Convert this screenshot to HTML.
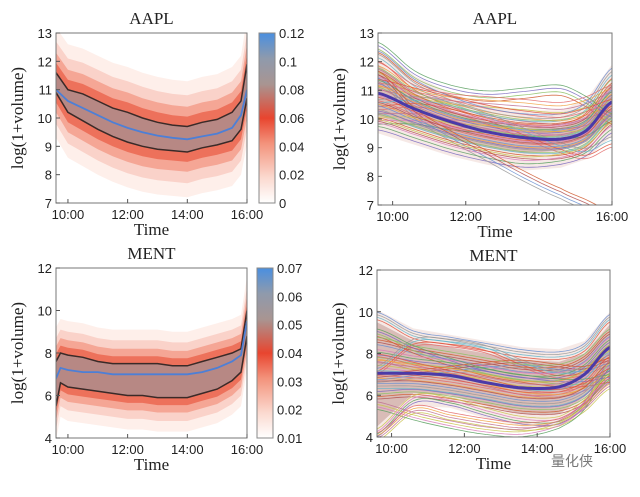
<!DOCTYPE html>
<html><head><meta charset="utf-8">
<style>
body{margin:0;background:#fff;width:640px;height:492px;overflow:hidden}
svg text{font-family:"Liberation Sans",sans-serif;fill:#222}
.serif{font-family:"Liberation Serif",serif !important}
</style></head>
<body>
<svg id="fig" width="640" height="492" xmlns="http://www.w3.org/2000/svg">
<defs>
<linearGradient id="cb" x1="0" y1="1" x2="0" y2="0">
<stop offset="0" stop-color="#ffffff"/><stop offset="0.15" stop-color="#fbd9cf"/>
<stop offset="0.35" stop-color="#f3937c"/><stop offset="0.5" stop-color="#e8452f"/>
<stop offset="0.7" stop-color="#a89592"/><stop offset="0.85" stop-color="#8f9aac"/>
<stop offset="1" stop-color="#4a8fe0"/></linearGradient>
</defs>
</svg>
<script>
// ---------- data ----------
const aaplTimes=[9.6,10,10.5,11,11.5,12,12.5,13,13.5,14,14.5,15,15.5,15.8,16];
const aaplMean=[11.0,10.6,10.35,10.1,9.85,9.65,9.5,9.38,9.3,9.25,9.35,9.45,9.65,10.1,11.0];
const aaplUpper=[11.6,11.0,10.85,10.6,10.35,10.2,10.0,9.85,9.75,9.7,9.85,9.95,10.2,10.6,11.9];
const aaplLower=[10.9,10.2,9.9,9.6,9.35,9.15,9.0,8.9,8.85,8.8,8.95,9.05,9.2,9.6,10.7];
const mentTimes=[9.6,9.75,10,10.5,11,11.5,12,12.5,13,13.5,14,14.5,15,15.5,15.8,16];
const mentMean=[6.8,7.3,7.2,7.1,7.1,7.0,7.0,7.0,7.0,7.0,7.0,7.1,7.3,7.6,7.9,9.5];
const mentUpper=[7.6,8.0,7.9,7.8,7.6,7.5,7.5,7.5,7.5,7.4,7.4,7.6,7.8,8.0,8.2,10.0];
const mentLower=[5.5,6.6,6.4,6.3,6.2,6.1,6.0,6.0,5.9,5.9,5.9,6.1,6.3,6.7,7.1,8.8];
const fitTimes=[9.6,10.6,11.6,12.6,13.6,14.6,15.3,16];
const aaplFitMean=[10.9,10.35,9.9,9.55,9.35,9.3,9.6,10.6];
const aaplCurves=[
[12.2,11.2,10.6,10.2,10.0,10.0,10.4,11.6],[11.6,10.8,10.3,10.0,9.8,9.8,10.1,11.2],
[11.3,10.6,10.1,9.8,9.6,9.6,9.9,10.9],[11.0,10.4,9.9,9.6,9.4,9.4,9.7,10.7],
[10.7,10.2,9.7,9.4,9.2,9.2,9.5,10.4],[10.4,9.9,9.5,9.2,9.0,9.0,9.3,10.2],
[10.1,9.7,9.3,9.0,8.8,8.8,9.1,10.0],[9.8,9.4,9.0,8.7,8.5,8.6,8.9,9.7],
[11.8,11.0,10.7,10.6,10.5,10.4,10.6,11.0],[10.5,10.6,10.4,10.0,9.5,9.0,8.8,9.2],
[11.5,10.2,9.4,8.7,8.0,7.4,7.0,6.6],[12.5,11.5,11.0,10.8,10.9,11.0,10.6,10.0],
[10.0,10.0,9.8,9.7,9.6,9.5,9.6,10.1],[11.2,10.9,10.6,10.3,10.1,10.0,10.2,10.5]];
const mentFitMean=[7.05,7.05,6.95,6.6,6.35,6.4,7.0,8.3];
const mentCurves=[
[9.8,8.9,8.6,8.3,8.0,7.9,8.3,9.7],[8.6,8.2,7.9,7.6,7.3,7.3,7.8,9.0],
[8.0,7.7,7.5,7.2,6.9,6.9,7.4,8.6],[7.5,7.3,7.1,6.8,6.5,6.5,7.0,8.2],
[7.0,6.9,6.7,6.4,6.1,6.1,6.6,7.8],[6.5,6.5,6.3,6.0,5.7,5.7,6.2,7.4],
[6.0,6.1,5.9,5.6,5.3,5.3,5.8,7.0],[4.2,5.8,5.7,5.2,4.8,4.8,5.6,6.8],
[4.0,5.3,5.0,4.7,4.5,4.7,5.4,6.5],[7.2,8.5,8.5,8.2,7.5,7.0,7.2,8.0],
[6.8,7.0,7.2,7.4,7.5,7.3,7.2,7.6],[9.0,8.2,7.6,7.1,6.8,6.6,6.6,6.8],
[5.5,5.0,4.6,4.3,4.2,4.6,5.5,7.5],[7.8,7.4,7.0,6.6,6.2,6.1,6.4,7.1]];
const xTickLabels=["10:00","12:00","14:00","16:00"];
const xTickValues=[10,12,14,16];
const aaplYTicks=[7,8,9,10,11,12,13];
const mentYTicks=[4,6,8,10,12];
const aaplCbTicks=["0","0.02","0.04","0.06","0.08","0.1","0.12"];
const mentCbTicks=["0.01","0.02","0.03","0.04","0.05","0.06","0.07"];
const lineColors=["#e0553f","#6a8fd0","#8bc063","#d77bb8","#f0a040","#66b6c9","#b05050","#7a6ac0","#c9c24c","#e36a6a","#999999","#d05a30","#5aa060","#c07090"];

// ---------- helpers ----------
const svg=document.getElementById('fig');const NS="http://www.w3.org/2000/svg";
function el(t,a,p){const e=document.createElementNS(NS,t);for(const k in a)e.setAttribute(k,a[k]);(p||svg).appendChild(e);return e;}
function mkAxes(x0,x1,y0,y1,ymin,ymax){return {x:t=>x0+(t-9.6)/(16-9.6)*(x1-x0),y:v=>y1-(v-ymin)/(ymax-ymin)*(y1-y0),x0,x1,y0,y1,ymin,ymax};}
function pathOf(ax,ts,vs){return ts.map((t,i)=>(i?'L':'M')+ax.x(t).toFixed(1)+','+ax.y(vs[i]).toFixed(1)).join('');}
function smoothPath(ax,ts,vs){let d='';for(let i=0;i<ts.length-1;i++){const n=8;for(let k=0;k<=n;k++){const s=k/n;
const p0=vs[Math.max(i-1,0)],p1=vs[i],p2=vs[i+1],p3=vs[Math.min(i+2,vs.length-1)];
const v=0.5*((2*p1)+(-p0+p2)*s+(2*p0-5*p1+4*p2-p3)*s*s+(-p0+3*p1-3*p2+p3)*s*s*s);
const t=ts[i]+(ts[i+1]-ts[i])*s;d+=(d?'L':'M')+ax.x(t).toFixed(1)+','+ax.y(v).toFixed(1);}}return d;}
function band(ax,ts,lo,hi,off,fill,op,g){const up=hi.map(v=>v+off),dn=lo.map(v=>v-off);
const d=pathOf(ax,ts,up)+ts.slice().reverse().map((t,i)=>'L'+ax.x(t).toFixed(1)+','+ax.y(dn[dn.length-1-i]).toFixed(1)).join('')+'Z';
return el('path',{d,fill,'fill-opacity':op,stroke:'none'},g);}
function frame(ax,yt,title,name){
 const g=el('g',{});
 el('rect',{x:ax.x0,y:ax.y0,width:ax.x1-ax.x0,height:ax.y1-ax.y0,fill:'none',stroke:'#777','stroke-width':1},g);
 yt.forEach(v=>{const y=ax.y(v);el('line',{x1:ax.x0,x2:ax.x0+4,y1:y,y2:y,stroke:'#555'},g);
  const t=el('text',{x:ax.x0-4,y:y+5,'text-anchor':'end','font-size':13},g);t.textContent=v;});
 xTickValues.forEach((v,i)=>{const x=ax.x(v);el('line',{x1:x,x2:x,y1:ax.y1,y2:ax.y1-4,stroke:'#555'},g);
  const t=el('text',{x:x,y:ax.y1+16,'text-anchor':'middle','font-size':13},g);t.textContent=xTickLabels[i];});
 const tt=el('text',{x:(ax.x0+ax.x1)/2,y:ax.y0-9,'text-anchor':'middle','font-size':17,class:'serif'},g);tt.textContent=title;
 
 const xl=el('text',{x:(ax.x0+ax.x1)/2,y:ax.y1+32,'text-anchor':'middle','font-size':17,class:'serif'},g);xl.textContent='Time';
 
 const cy=(ax.y0+ax.y1)/2,cx=ax.x0-33;
 const yl=el('text',{x:cx,y:cy,'text-anchor':'middle','font-size':17,class:'serif',transform:`rotate(-90 ${cx} ${cy})`},g);yl.textContent='log(1+volume)';
 }
function colorbar(x,y0,y1,labels,name){const g=el('g',{});
 el('rect',{x:x,y:y0,width:16,height:y1-y0,fill:'url(#cb)',stroke:'#888'},g);
 labels.forEach((l,i)=>{const y=y1-i*(y1-y0)/(labels.length-1);const t=el('text',{x:x+20,y:y+5,'font-size':13},g);t.textContent=l;
  });}
function density(ax,ts,mean,lo,hi,name){const g=el('g',{});
 const cp=el('clipPath',{id:name+'c'});el('rect',{x:ax.x0,y:ax.y0,width:ax.x1-ax.x0,height:ax.y1-ax.y0},cp);g.setAttribute('clip-path',`url(#${name}c)`);
 band(ax,ts,lo,hi,1.6,'#fbd0c4',0.35,g);band(ax,ts,lo,hi,1.1,'#f6a898',0.4,g);band(ax,ts,lo,hi,0.7,'#f07a62',0.5,g);
 band(ax,ts,lo,hi,0.35,'#e8553c',0.65,g);band(ax,ts,lo,hi,0,'#b08b88',0.9,g);
 el('path',{d:pathOf(ax,ts,hi),fill:'none',stroke:'#3a2a28','stroke-width':1.5},g);
 el('path',{d:pathOf(ax,ts,lo),fill:'none',stroke:'#3a2a28','stroke-width':1.5},g);
 const m=el('path',{d:pathOf(ax,ts,mean),fill:'none',stroke:'#4d7fd6','stroke-width':1.8},g);}
function spaghetti(ax,curves,mean,name){const g=el('g',{});
 const cp=el('clipPath',{id:name+'c'});el('rect',{x:ax.x0,y:ax.y0,width:ax.x1-ax.x0,height:ax.y1-ax.y0},cp);g.setAttribute('clip-path',`url(#${name}c)`);
 const hi=curves[0],lo=curves[7];band(ax,fitTimes,lo,hi,0.3,'#e8c8c0',0.4,g);band(ax,fitTimes,lo,hi,-0.3,'#b07870',0.4,g);
 for(let r=0;r<4;r++)curves.forEach((c,i)=>{const sh=(r-1.5)*0.12;const p=el('path',{d:smoothPath(ax,fitTimes,c.map(v=>v+sh)),fill:'none',stroke:lineColors[(i+r*5)%lineColors.length],'stroke-width':0.8,'stroke-opacity':0.85},g);
  });
 const m=el('path',{d:smoothPath(ax,fitTimes,mean),fill:'none',stroke:'#4b3aa8','stroke-width':3},g);}

// ---------- draw ----------
const a1=mkAxes(56,247,33,203,7,13);density(a1,aaplTimes,aaplMean,aaplLower,aaplUpper,'aapl-density');frame(a1,aaplYTicks,'AAPL','aapl-heatmap');colorbar(259,33,203,aaplCbTicks,'aapl-colorbar');
const a2=mkAxes(378,612,33,205,7,13);spaghetti(a2,aaplCurves,aaplFitMean,'aapl-curves');frame(a2,aaplYTicks,'AAPL','aapl-fits');
const a3=mkAxes(56,247,268,438,4,12);density(a3,mentTimes,mentMean,mentLower,mentUpper,'ment-density');frame(a3,mentYTicks,'MENT','ment-heatmap');colorbar(257,268,438,mentCbTicks,'ment-colorbar');
const a4=mkAxes(377,610,270,437,4,12);spaghetti(a4,mentCurves,mentFitMean,'ment-curves');frame(a4,mentYTicks,'MENT','ment-fits');
const wm=el('text',{x:572,y:466,'text-anchor':'middle','font-size':14,style:'font-family:"Liberation Sans","Noto Sans CJK SC",sans-serif;fill:#777'});wm.textContent='量化侠';

</script>
</body></html>
